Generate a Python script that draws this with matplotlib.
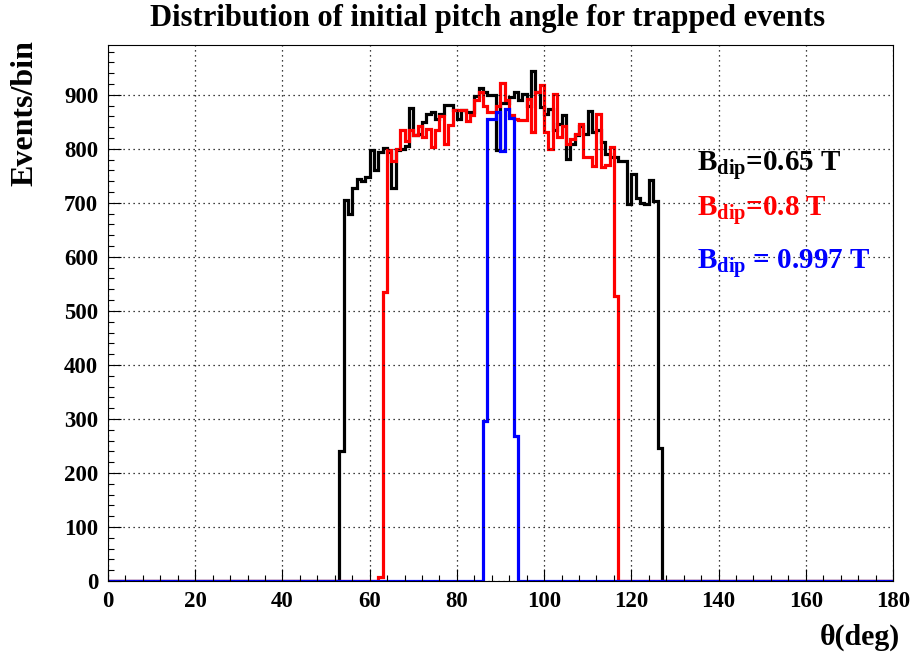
import matplotlib

matplotlib.use("Agg")
import matplotlib.pyplot as plt
import numpy as np
from matplotlib.ticker import MultipleLocator

# 1-degree bins over 0..180
bin_edges = np.arange(0, 181, 1)

# counts per bin; each series starts at the given bin index
black_first_bin = 53
black_counts = [
    240, 705, 680, 728, 744, 740, 747, 797, 760, 794,
    802, 795, 728, 798, 800, 805, 876, 825, 828, 850,
    865, 868, 855, 865, 882, 882, 872, 856, 872, 868,
    868, 897, 912, 905, 900, 899, 797, 885, 884, 896,
    905, 890, 902, 880, 945, 905, 877, 865, 874, 834,
    846, 862, 781, 809, 825, 843, 828, 870, 831, 834,
    812, 790, 784, 784, 778, 778, 697, 753, 709, 700,
    697, 742, 703, 247,
]

red_first_bin = 62
red_counts = [
    8, 535, 797, 778, 800, 834, 815, 834, 825, 843,
    822, 837, 804, 835, 860, 809, 845, 871, 871, 871,
    852, 862, 890, 905, 880, 868, 868, 880, 922, 890,
    862, 856, 853, 853, 893, 831, 905, 918, 831, 800,
    902, 822, 843, 809, 818, 828, 846, 784, 784, 769,
    865, 766, 770, 803, 527,
]

blue_first_bin = 86
blue_counts = [296, 856, 856, 868, 796, 874, 858, 269]

labels = [r"$\mathbf{B_{dip}}$=0.65 T", r"$\mathbf{B_{dip}}$=0.8 T", r"$\mathbf{B_{dip}}$ = 0.997 T"]
colors = ["black", "red", "blue"]


def full_hist(first_bin, counts):
    h = np.zeros(len(bin_edges) - 1)
    h[first_bin:first_bin + len(counts)] = counts
    return h


plt.rcParams["font.family"] = ["Liberation Serif", "DejaVu Serif"]
plt.rcParams["font.weight"] = "bold"
plt.rcParams["mathtext.fontset"] = "custom"
plt.rcParams["mathtext.rm"] = "Liberation Serif:bold"
plt.rcParams["mathtext.bf"] = "Liberation Serif:bold"
plt.rcParams["mathtext.it"] = "Liberation Serif:bold"

fig = plt.figure(figsize=(9.15, 6.57), dpi=100)
ax = fig.add_axes([108 / 915, 76 / 657, 785 / 915, 536 / 657])

hists = [
    full_hist(black_first_bin, black_counts),
    full_hist(red_first_bin, red_counts),
    full_hist(blue_first_bin, blue_counts),
]
for h, c in zip(hists, colors):
    ax.stairs(h, bin_edges, color=c, linewidth=2.3, baseline=None)

ax.set_xlim(0, 180)
ax.set_ylim(0, 1.05 * max(hists[0]))

ax.xaxis.set_major_locator(MultipleLocator(20))
ax.xaxis.set_minor_locator(MultipleLocator(4))
ax.yaxis.set_major_locator(MultipleLocator(100))
ax.yaxis.set_minor_locator(MultipleLocator(20))
ax.tick_params(which="both", direction="in", top=False, right=False, width=0.8)
ax.tick_params(which="major", length=9, labelsize=16.5, pad=7)
ax.tick_params(which="minor", length=4.5)
for lab in ax.get_xticklabels() + ax.get_yticklabels():
    lab.set_fontweight("bold")

ax.grid(True, which="major", color="black", linestyle=(0, (1, 3)), linewidth=0.9)
ax.set_axisbelow(False)
for sp in ax.spines.values():
    sp.set_linewidth(0.8)

ax.text(-0.106, 1.01, "Events/bin", rotation=90, ha="center", va="top",
        fontsize=23, fontweight="bold", transform=ax.transAxes)
ax.text(1.009, -0.106, "θ(deg)", ha="right", va="center",
        fontsize=21.5, fontweight="bold", transform=ax.transAxes)

for lab, c, y in zip(labels, colors, [0.776, 0.692, 0.593]):
    ax.text(0.75, y, lab, color=c, fontsize=21, fontweight="bold",
            ha="left", va="center", transform=ax.transAxes)

fig.text(0.533, 0.972, "Distribution of initial pitch angle for trapped events",
         ha="center", va="center", fontsize=22, fontweight="bold")

fig.savefig("out.png", dpi=100)
plt.close(fig)
